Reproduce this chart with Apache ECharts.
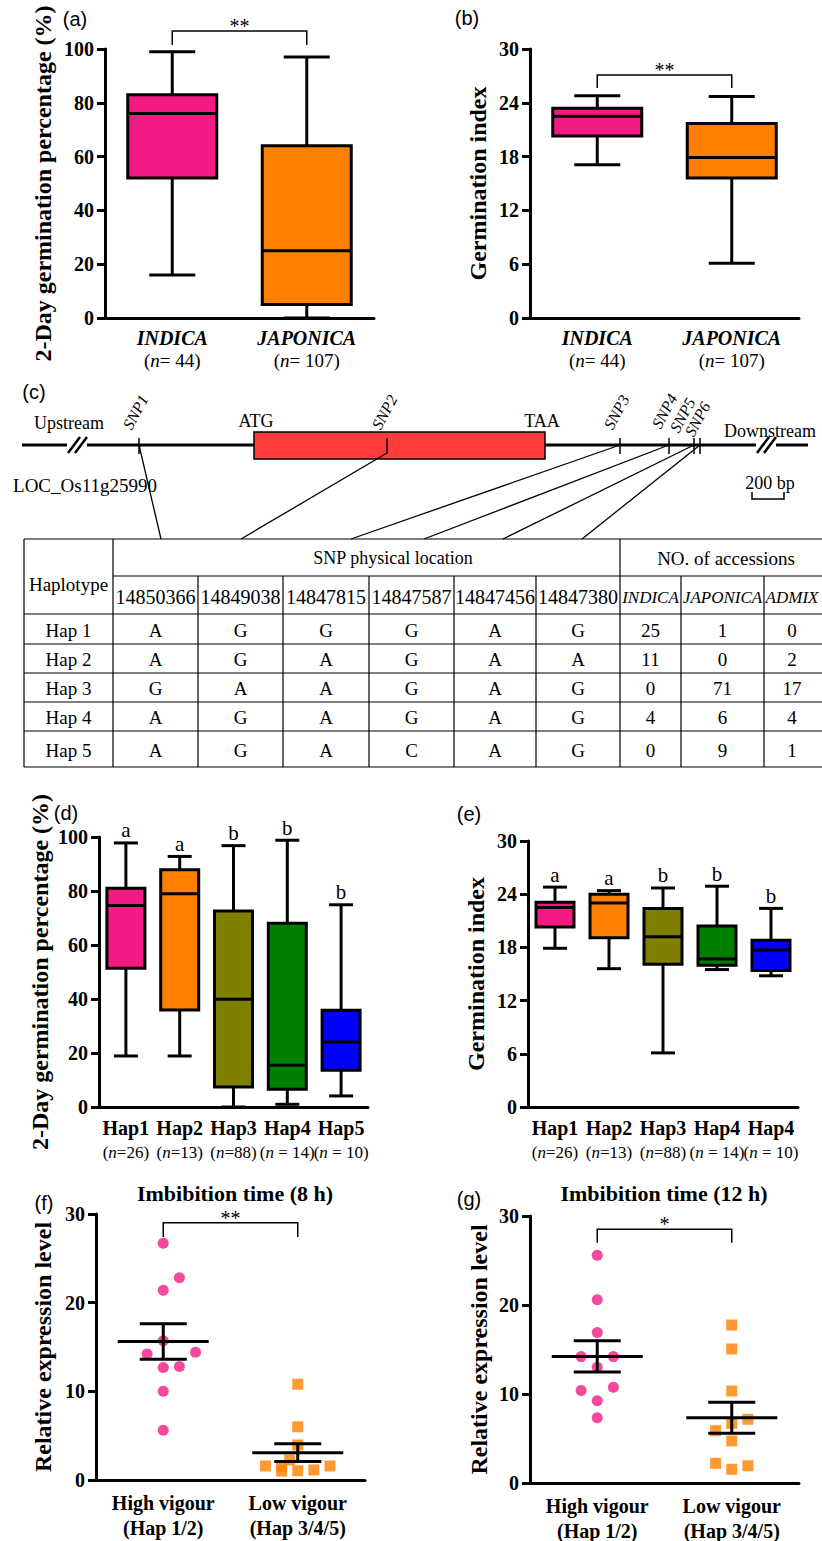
<!DOCTYPE html>
<html>
<head>
<meta charset="utf-8">
<title>Seed germination and haplotypes of LOC_Os11g25990</title>
<script src="https://cdn.jsdelivr.net/npm/echarts@6/dist/echarts.min.js"></script>
<style>
  html, body { margin: 0; padding: 0; background: #fff; }
  #chart { width: 822px; height: 1541px; }
</style>
</head>
<body>
<div id="chart"></div>
<script>
var SERIF = "'Liberation Serif', 'Times New Roman', serif";
var SANS = "'Liberation Sans', Arial, sans-serif";

// ---- (a)/(b) subspecies, boxes are [min, Q1, median, Q3, max]
var subspecies = ['INDICA', 'JAPONICA'];
var subspeciesN = ['= 44', '= 107'];
var germPctSub = [[16, 52, 76, 83, 99], [0, 5, 25, 64, 97]];
var germIdxSub = [[17.1, 20.3, 22.5, 23.4, 24.8], [6.1, 15.6, 17.9, 21.7, 24.7]];

// ---- (c) haplotype table
var snpNames = ['SNP1', 'SNP2', 'SNP3', 'SNP4', 'SNP5', 'SNP6'];
var snpLocations = ['14850366', '14849038', '14847815', '14847587', '14847456', '14847380'];
var accessionGroups = ['INDICA', 'JAPONICA', 'ADMIX'];
var haplotypes = ['Hap 1', 'Hap 2', 'Hap 3', 'Hap 4', 'Hap 5'];
var hapAlleles = [
  ['A', 'G', 'G', 'G', 'A', 'G'],
  ['A', 'G', 'A', 'G', 'A', 'A'],
  ['G', 'A', 'A', 'G', 'A', 'G'],
  ['A', 'G', 'A', 'G', 'A', 'G'],
  ['A', 'G', 'A', 'C', 'A', 'G']
];
var hapAccessions = [[25, 1, 0], [11, 0, 2], [0, 71, 17], [4, 6, 4], [0, 9, 1]];

// ---- (d)/(e) haplotype boxes
var hapCatsD = ['Hap1', 'Hap2', 'Hap3', 'Hap4', 'Hap5'];
var hapCatsE = ['Hap1', 'Hap2', 'Hap3', 'Hap4', 'Hap4'];
var hapN = ['=26', '=13', '=88', ' = 14', ' = 10'];
var germPctHap = [
  [18.9, 51.4, 74.6, 81.0, 97.8],
  [18.9, 35.9, 79.0, 87.9, 92.8],
  [0, 7.4, 39.9, 72.6, 96.8],
  [1.0, 6.6, 15.5, 68.1, 98.8],
  [4.1, 13.6, 24.1, 35.8, 74.9]
];
var germIdxHap = [
  [17.9, 20.3, 22.5, 23.1, 24.8],
  [15.6, 19.1, 23.0, 24.0, 24.4],
  [6.1, 16.1, 19.2, 22.4, 24.7],
  [15.5, 16.0, 16.7, 20.4, 24.9],
  [14.8, 15.4, 17.7, 18.8, 22.4]
];
var lettersPct = ['a', 'a', 'b', 'b', 'b'];
var lettersIdx = ['a', 'a', 'b', 'b', 'b'];

// ---- (f)/(g) relative expression, slot = sideways offset step of a point
var vigour = ['High vigour', 'Low vigour'];
var vigourHaps = ['(Hap 1/2)', '(Hap 3/4/5)'];
var expr8High = [26.7, 22.8, 21.4, 15.7, 14.2, 14.4, 12.7, 12.8, 10.0, 5.6];
var expr8HighSlot = [0, 1, 0, 0, -1, 2, 0, 1, 0, 0];
var expr8Low = [10.8, 6.0, 3.95, 2.26, 1.58, 1.5, 1.05, 1.13, 1.58, 1.0];
var expr8LowSlot = [0, 0, 0, -0.5, -2, -1, 0, 1, 2, -1];
var expr12High = [25.6, 20.6, 16.9, 14.2, 14.2, 13.0, 10.4, 10.75, 9.25, 7.34];
var expr12HighSlot = [0, 0, 0, -1, 1, 0, -1, 1, 0, 0];
var expr12Low = [17.75, 15.06, 10.34, 7.16, 6.7, 5.88, 4.72, 2.21, 1.94, 1.54];
var expr12LowSlot = [0, 0, 0, 1, 0, -1, 0, -1, 1, 0];

var PINK = '#F41A84', ORANGE = '#FF8000';
var subColors = [PINK, ORANGE];
var hapColors = [PINK, ORANGE, '#808000', '#008000', '#0000FF'];
var SLOT = 0.12;

function mean(a) { var s = 0; a.forEach(function (v) { s += v; }); return s / a.length; }
function sem(a) {
  var m = mean(a), s = 0;
  a.forEach(function (v) { s += (v - m) * (v - m); });
  return Math.sqrt(s / (a.length - 1)) / Math.sqrt(a.length);
}

function valueAxis(gi, max, step, name, gap) {
  return {
    type: 'value', gridIndex: gi, min: 0, max: max, interval: step,
    name: name, nameLocation: 'middle', nameRotate: 90, nameGap: gap,
    nameTextStyle: { fontFamily: SERIF, fontWeight: 'bold', fontSize: 24, color: '#000' },
    axisLine: { show: true, onZero: false, lineStyle: { color: '#000', width: 3 } },
    axisTick: { show: true, length: 8, lineStyle: { color: '#000', width: 3 } },
    axisLabel: { fontFamily: SERIF, fontWeight: 'bold', fontSize: 20, color: '#000', margin: 11 },
    splitLine: { show: false }
  };
}

function catAxis(gi, cats, fmt, margin, rich) {
  return {
    type: 'category', gridIndex: gi, data: cats,
    axisLine: { onZero: false, lineStyle: { color: '#000', width: 3 } },
    axisTick: { alignWithLabel: true, length: 7, lineStyle: { color: '#000', width: 3 } },
    axisLabel: { interval: 0, margin: margin, formatter: fmt, rich: rich, color: '#000' },
    splitLine: { show: false }
  };
}

function richSet(size, nSize, lh) {
  return {
    bi: { fontFamily: SERIF, fontWeight: 'bold', fontStyle: 'italic', fontSize: size, lineHeight: lh, color: '#000' },
    b: { fontFamily: SERIF, fontWeight: 'bold', fontSize: size, lineHeight: lh, color: '#000' },
    n: { fontFamily: SERIF, fontSize: nSize, lineHeight: lh, color: '#000' },
    i: { fontFamily: SERIF, fontStyle: 'italic', fontSize: nSize, lineHeight: lh, color: '#000' }
  };
}

function boxSeries(ax, boxes, colors, boxW, capW) {
  return {
    type: 'custom', xAxisIndex: ax, yAxisIndex: ax, silent: true,
    data: boxes.map(function (b, i) { return [i].concat(b); }),
    encode: { x: 0, y: [1, 2, 3, 4, 5] },
    renderItem: function (params, api) {
      var i = api.value(0);
      var p = [1, 2, 3, 4, 5].map(function (k) { return api.coord([i, api.value(k)]); });
      var cx = p[0][0];
      var ls = { stroke: '#000', lineWidth: 3 };
      return { type: 'group', children: [
        { type: 'line', shape: { x1: cx, y1: p[4][1], x2: cx, y2: p[3][1] }, style: ls },
        { type: 'line', shape: { x1: cx, y1: p[1][1], x2: cx, y2: p[0][1] }, style: ls },
        { type: 'line', shape: { x1: cx - capW / 2, y1: p[4][1], x2: cx + capW / 2, y2: p[4][1] }, style: ls },
        { type: 'line', shape: { x1: cx - capW / 2, y1: p[0][1], x2: cx + capW / 2, y2: p[0][1] }, style: ls },
        { type: 'rect', shape: { x: cx - boxW / 2, y: p[3][1], width: boxW, height: p[1][1] - p[3][1] },
          style: { fill: colors[params.dataIndex], stroke: '#000', lineWidth: 3 } },
        { type: 'line', shape: { x1: cx - boxW / 2, y1: p[2][1], x2: cx + boxW / 2, y2: p[2][1] }, style: ls }
      ] };
    }
  };
}

function letterSeries(ax, boxes, letters) {
  return {
    type: 'custom', xAxisIndex: ax, yAxisIndex: ax, silent: true,
    data: boxes.map(function (b, i) { return [i, b[4]]; }),
    renderItem: function (params, api) {
      var p = api.coord([api.value(0), api.value(1)]);
      return { type: 'text', x: p[0], y: p[1] - 2,
        style: { text: letters[params.dataIndex], fontFamily: SERIF, fontSize: 21, fill: '#000',
          align: 'center', verticalAlign: 'bottom' } };
    }
  };
}

function bracketSeries(ax, top, leg, mark) {
  return {
    type: 'custom', xAxisIndex: ax, yAxisIndex: ax, silent: true, z: 5,
    data: [[0, 1, top, leg]],
    renderItem: function (params, api) {
      var l = api.coord([api.value(0), api.value(2)]);
      var r = api.coord([api.value(1), api.value(2)]);
      var yl = api.coord([0, api.value(3)])[1];
      return { type: 'group', children: [
        { type: 'polyline', shape: { points: [[l[0], yl], [l[0], l[1]], [r[0], l[1]], [r[0], yl]] },
          style: { stroke: '#000', lineWidth: 1.5, fill: 'none' } },
        { type: 'text', x: (l[0] + r[0]) / 2, y: l[1] - 5,
          style: { text: mark, fontFamily: SERIF, fontSize: 20, fill: '#000', align: 'center', verticalAlign: 'middle' } }
      ] };
    }
  };
}

function meanSemSeries(ax, groups) {
  return {
    type: 'custom', xAxisIndex: ax, yAxisIndex: ax, silent: true, z: 6,
    data: groups.map(function (g, i) { var m = mean(g), s = sem(g); return [i, m, m - s, m + s]; }),
    renderItem: function (params, api) {
      var pm = api.coord([api.value(0), api.value(1)]);
      var lo = api.coord([api.value(0), api.value(2)])[1];
      var hi = api.coord([api.value(0), api.value(3)])[1];
      var ls = { stroke: '#000', lineWidth: 3 };
      var cx = pm[0];
      return { type: 'group', children: [
        { type: 'line', shape: { x1: cx - 45.5, y1: pm[1], x2: cx + 45.5, y2: pm[1] }, style: ls },
        { type: 'line', shape: { x1: cx, y1: lo, x2: cx, y2: hi }, style: ls },
        { type: 'line', shape: { x1: cx - 23.5, y1: hi, x2: cx + 23.5, y2: hi }, style: ls },
        { type: 'line', shape: { x1: cx - 23.5, y1: lo, x2: cx + 23.5, y2: lo }, style: ls }
      ] };
    }
  };
}

function pointSeries(xAx, yAx, group, vals, slots, symbol, color) {
  return {
    type: 'scatter', xAxisIndex: xAx, yAxisIndex: yAx, silent: true, z: 3,
    symbol: symbol, symbolSize: 11,
    itemStyle: { color: color },
    data: vals.map(function (v, k) { return [group + slots[k] * SLOT, v]; })
  };
}

// ---------- graphic helpers (schematic + table)
function gLine(x1, y1, x2, y2, w) {
  return { type: 'line', silent: true, shape: { x1: x1, y1: y1, x2: x2, y2: y2 }, style: { stroke: '#000', lineWidth: w || 1.5 } };
}
function gText(x, y, text, size, extra) {
  var st = { text: text, fontFamily: SERIF, fontSize: size, fill: '#000', align: 'center', verticalAlign: 'middle' };
  for (var k in (extra || {})) st[k] = extra[k];
  return { type: 'text', silent: true, x: x, y: y, style: st };
}

var graphics = [];
// panel letters
[['(a)', 75, 19], ['(b)', 467, 18], ['(c)', 34, 392], ['(d)', 66, 813],
 ['(e)', 469, 814], ['(f)', 44, 1203], ['(g)', 469, 1199]].forEach(function (p) {
  graphics.push(gText(p[1], p[2], p[0], 20, { fontFamily: SANS }));
});
graphics.push(gText(235, 1193, 'Imbibition time (8 h)', 22, { fontWeight: 'bold' }));
graphics.push(gText(664, 1193, 'Imbibition time (12 h)', 22, { fontWeight: 'bold' }));

// gene schematic
var geneY = 445;
graphics.push(gLine(22, geneY, 808, geneY, 3));
graphics.push({ type: 'rect', silent: true, shape: { x: 254, y: 432, width: 291, height: 27 },
  style: { fill: '#FF3C3C', stroke: '#000', lineWidth: 1.5 } });
[[68, 75], [757, 764]].forEach(function (b) {
  graphics.push({ type: 'rect', silent: true, shape: { x: b[0] - 1, y: geneY - 2, width: 20, height: 4 }, style: { fill: '#fff' } });
  graphics.push(gLine(b[0], 453, b[0] + 12, 437, 2.5));
  graphics.push(gLine(b[1], 453, b[1] + 12, 437, 2.5));
});
var snpX = [139, 387, 620, 669, 694, 700];
var snpLabelAt = [[134, 432], [383, 432], [615, 432], [663, 431], [681, 435], [696, 439]];
var snpTableX = [161, 241, 351, 424, 503, 582];
snpX.forEach(function (x, i) {
  graphics.push(gLine(x, 438, x, 454, 1.5));
  graphics.push(gLine(x, i === 1 ? 453 : geneY, snpTableX[i], 539, 1.3));
  graphics.push({ type: 'text', silent: true, x: snpLabelAt[i][0], y: snpLabelAt[i][1], rotation: 62 * Math.PI / 180,
    style: { text: snpNames[i], fontFamily: SERIF, fontStyle: 'italic', fontSize: 16, fill: '#000', align: 'left', verticalAlign: 'bottom' } });
});
graphics.push(gText(69, 423, 'Upstream', 18));
graphics.push(gText(256, 421, 'ATG', 18));
graphics.push(gText(542, 421, 'TAA', 18));
graphics.push(gText(770, 431, 'Downstream', 18));
graphics.push(gText(85, 485, 'LOC_Os11g25990', 19));
graphics.push(gText(770, 483, '200 bp', 18));
graphics.push({ type: 'polyline', silent: true, shape: { points: [[752, 492], [752, 499], [784, 499], [784, 492]] },
  style: { stroke: '#000', lineWidth: 1.5, fill: 'none' } });

// table
var tCols = [24, 113, 198, 283, 369, 454, 536, 620, 681, 764, 845];
var tTop = 539, tMid = 576, tHead = 614, tRows = [644, 673, 702, 731], tBot = 767;
graphics.push(gLine(tCols[0], tTop, 822, tTop, 1.2));
graphics.push(gLine(tCols[1], tMid, 822, tMid, 1.2));
graphics.push(gLine(tCols[0], tHead, 822, tHead, 1.2));
tRows.forEach(function (y) { graphics.push(gLine(tCols[0], y, 822, y, 1.2)); });
graphics.push(gLine(tCols[0], tBot, 822, tBot, 1.2));
[0, 1, 7].forEach(function (c) { graphics.push(gLine(tCols[c], tTop, tCols[c], tBot, 1.2)); });
[2, 3, 4, 5, 6, 8, 9].forEach(function (c) { graphics.push(gLine(tCols[c], tMid, tCols[c], tBot, 1.2)); });
graphics.push(gText(68.5, 584, 'Haplotype', 19));
graphics.push(gText(393, 558, 'SNP physical location', 18));
graphics.push(gText(726, 558, 'NO. of accessions', 19));
function colMid(c) { return (tCols[c] + tCols[c + 1]) / 2; }
snpLocations.forEach(function (s, i) { graphics.push(gText(colMid(i + 1), 597, s, 20)); });
var accX = [colMid(7), colMid(8), 792];
accessionGroups.forEach(function (g, i) { graphics.push(gText(accX[i], 597, g, 17, { fontStyle: 'italic' })); });
var rowY = [tHead, 644, 673, 702, 731, tBot];
haplotypes.forEach(function (h, r) {
  var cy = (rowY[r] + rowY[r + 1]) / 2 + 1;
  graphics.push(gText(68.5, cy, h, 19));
  hapAlleles[r].forEach(function (a, i) { graphics.push(gText(colMid(i + 1), cy, a, 19)); });
  hapAccessions[r].forEach(function (n, i) { graphics.push(gText(accX[i], cy, String(n), 19)); });
});

// ---------- axes
var rich2 = richSet(20, 19, 22);
var rich5 = richSet(20, 17, 25);
var grids = [
  { left: 105, top: 49, width: 269, height: 269 },
  { left: 530, top: 49, width: 269, height: 269 },
  { left: 99, top: 837, width: 269, height: 270 },
  { left: 528, top: 841, width: 270, height: 266 },
  { left: 96, top: 1214, width: 269, height: 266 },
  { left: 530, top: 1216, width: 269, height: 267 }
].map(function (g) { g.containLabel = false; g.outerBoundsMode = 'none'; return g; });

function subFmt(v, i) { return '{bi|' + subspecies[i] + '}\n{n|(}{i|n}{n|' + subspeciesN[i] + ')}'; }
function hapFmtD(v, i) { return '{b|' + hapCatsD[i] + '}\n{n|(}{i|n}{n|' + hapN[i] + ')}'; }
function hapFmtE(v, i) { return '{b|' + hapCatsE[i] + '}\n{n|(}{i|n}{n|' + hapN[i] + ')}'; }
function vigFmt(v, i) { return '{b|' + vigour[i] + '}\n{b|' + vigourHaps[i] + '}'; }

var xAxes = [
  catAxis(0, subspecies, subFmt, 9, rich2),
  catAxis(1, subspecies, subFmt, 9, rich2),
  catAxis(2, hapCatsD, hapFmtD, 8, rich5),
  catAxis(3, hapCatsE.map(function (c, i) { return c + '#' + i; }), hapFmtE, 8, rich5),
  catAxis(4, vigour, vigFmt, 10, rich5),
  catAxis(5, vigour, vigFmt, 10, rich5),
  { type: 'value', gridIndex: 4, min: -0.5, max: 1.5, show: false },
  { type: 'value', gridIndex: 5, min: -0.5, max: 1.5, show: false }
];
var yAxes = [
  valueAxis(0, 100, 20, '2-Day germination percentage (%)', 50),
  valueAxis(1, 30, 6, 'Germination index', 40),
  valueAxis(2, 100, 20, '2-Day germination percentage (%)', 47),
  valueAxis(3, 30, 6, 'Germination index', 40),
  valueAxis(4, 30, 10, 'Relative expression level', 41),
  valueAxis(5, 30, 10, 'Relative expression level', 39)
];

var series = [
  boxSeries(0, germPctSub, subColors, 89, 46),
  bracketSeries(0, 106.7, 101.5, '**'),
  boxSeries(1, germIdxSub, subColors, 89, 46),
  bracketSeries(1, 27.1, 25.65, '**'),
  boxSeries(2, germPctHap, hapColors, 38, 24),
  letterSeries(2, germPctHap, lettersPct),
  boxSeries(3, germIdxHap, hapColors, 38, 24),
  letterSeries(3, germIdxHap, lettersIdx),
  pointSeries(6, 4, 0, expr8High, expr8HighSlot, 'circle', PINK),
  pointSeries(6, 4, 1, expr8Low, expr8LowSlot, 'rect', ORANGE),
  meanSemSeries(4, [expr8High, expr8Low]),
  bracketSeries(4, 29.0, 27.4, '**'),
  pointSeries(7, 5, 0, expr12High, expr12HighSlot, 'circle', PINK),
  pointSeries(7, 5, 1, expr12Low, expr12LowSlot, 'rect', ORANGE),
  meanSemSeries(5, [expr12High, expr12Low]),
  bracketSeries(5, 28.5, 27.0, '*')
];

var chart = echarts.init(document.getElementById('chart'), null, { renderer: 'svg' });
chart.setOption({
  backgroundColor: '#fff',
  animation: false,
  grid: grids,
  xAxis: xAxes,
  yAxis: yAxes,
  series: series,
  graphic: graphics
});
</script>
</body>
</html>
